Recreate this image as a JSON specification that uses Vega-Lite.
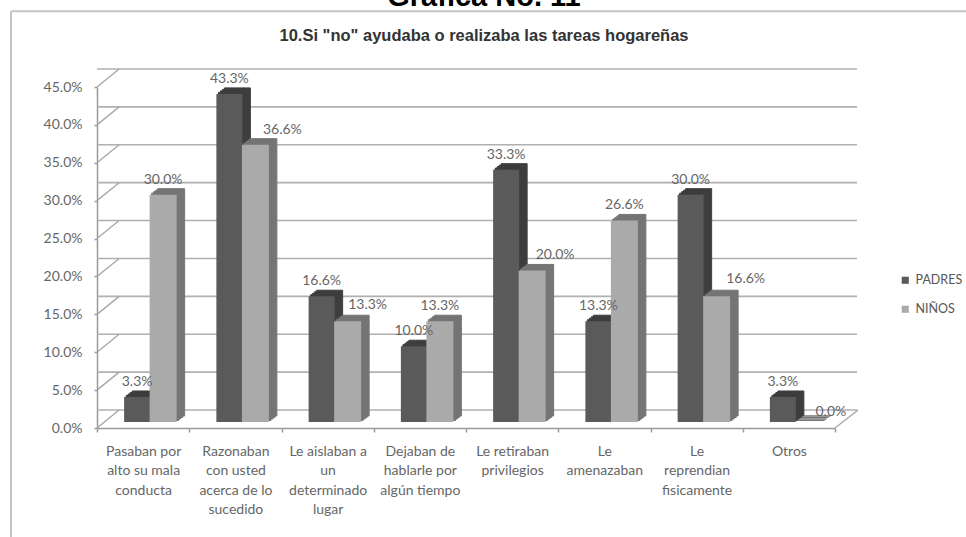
{"$schema":"https://vega.github.io/schema/vega-lite/v6.json","width":738,"height":341,"autosize":"none","padding":{"left":97,"top":87,"right":131,"bottom":109},"background":"white",
"config":{"view":{"stroke":null},"axisY":{"grid":false,"domainColor":"#9a9a9a","domainWidth":1.5,"tickColor":"#9a9a9a","tickSize":3,"tickWidth":1.5,"labelFont":"Lato","labelFontSize":14,"labelColor":"#666666","labelPadding":12}},
"title":{"text":"Gráfica No. 11","subtitle":"10.Si \"no\" ayudaba o realizaba las tareas hogareñas","font":"Liberation Sans","fontSize":29,"fontWeight":"bold","color":"#000000","subtitleFont":"Liberation Sans","subtitleFontSize":16.5,"subtitleFontWeight":"bold","subtitleColor":"#333333","subtitlePadding":16,"anchor":"middle","dx":18,"offset":-34},
"datasets":{"barras":[
{"categoria":"Pasaban por alto su mala conducta","serie":"PADRES","valor":3.3},{"categoria":"Pasaban por alto su mala conducta","serie":"NIÑOS","valor":30.0},
{"categoria":"Razonaban con usted acerca de lo sucedido","serie":"PADRES","valor":43.3},{"categoria":"Razonaban con usted acerca de lo sucedido","serie":"NIÑOS","valor":36.6},
{"categoria":"Le aislaban a un determinado lugar","serie":"PADRES","valor":16.6},{"categoria":"Le aislaban a un determinado lugar","serie":"NIÑOS","valor":13.3},
{"categoria":"Dejaban de hablarle por algún tiempo","serie":"PADRES","valor":10.0},{"categoria":"Dejaban de hablarle por algún tiempo","serie":"NIÑOS","valor":13.3},
{"categoria":"Le retiraban privilegios","serie":"PADRES","valor":33.3},{"categoria":"Le retiraban privilegios","serie":"NIÑOS","valor":20.0},
{"categoria":"Le amenazaban","serie":"PADRES","valor":13.3},{"categoria":"Le amenazaban","serie":"NIÑOS","valor":26.6},
{"categoria":"Le reprendian fisicamente","serie":"PADRES","valor":30.0},{"categoria":"Le reprendian fisicamente","serie":"NIÑOS","valor":16.6},
{"categoria":"Otros","serie":"PADRES","valor":3.3},{"categoria":"Otros","serie":"NIÑOS","valor":0.0}],
"niveles":[{"nivel":0},{"nivel":5},{"nivel":10},{"nivel":15},{"nivel":20},{"nivel":25},{"nivel":30},{"nivel":35},{"nivel":40},{"nivel":45}]},
"resolve":{"scale":{"x":"independent"},"axis":{"y":"independent"}},
"layer":[
{"data":{"values":[{"marco":"superior"}]},"mark":{"type":"rule","color":"#c4c4c4","strokeWidth":2},"encoding":{"x":{"datum":-0.932,"type":"quantitative","scale":{"domain":[0,8]},"axis":null},"x2":{"datum":9.42},"y":{"datum":55,"type":"quantitative","scale":{"domain":[0,45]},"axis":null}}},
{"data":{"values":[{"marco":"izquierdo"}]},"mark":{"type":"rule","color":"#c4c4c4","strokeWidth":2},"encoding":{"x":{"datum":-0.932,"type":"quantitative","scale":{"domain":[0,8]},"axis":null},"y":{"datum":55,"type":"quantitative","scale":{"domain":[0,45]},"axis":null},"y2":{"datum":-14.4}}},
{"data":{"name":"niveles"},"mark":{"type":"rule","color":"#b0b0b0","strokeWidth":1.6,"xOffset":22,"yOffset":-18},"encoding":{"y":{"field":"nivel","type":"quantitative","scale":{"domain":[0,45]},"axis":null}}},
{"data":{"name":"niveles"},"transform":[{"calculate":"datum.nivel+2.375","as":"fondo"}],"mark":{"type":"rule","color":"#a8a8a8","strokeWidth":1.4},"encoding":{"x":{"datum":0,"type":"quantitative","scale":{"domain":[0,8]},"axis":null},"x2":{"datum":0.24},"y":{"field":"nivel","type":"quantitative","scale":{"domain":[0,45]},"axis":null},"y2":{"field":"fondo"}}},
{"data":{"values":[{"marco":"derecho"}]},"mark":{"type":"rule","color":"#a8a8a8","strokeWidth":1.4},"encoding":{"x":{"datum":8,"type":"quantitative","scale":{"domain":[0,8]},"axis":null},"x2":{"datum":8.25},"y":{"datum":0,"type":"quantitative","scale":{"domain":[0,45]},"axis":null},"y2":{"datum":2.375}}},
{"data":{"name":"barras"},
"transform":[{"calculate":"format(datum.valor,'.1f')+'%'","as":"etiqueta"}],
"encoding":{
"x":{"field":"categoria","type":"nominal","sort":null,"scale":{"paddingInner":0,"paddingOuter":0},"axis":{"title":null,"labelAngle":0,"tickBand":"extent","domainColor":"#9a9a9a","domainWidth":1.5,"tickColor":"#9a9a9a","tickSize":4,"tickWidth":1.5,"labelFont":"Lato","labelFontSize":14,"labelColor":"#666666","labelPadding":12,"labelLineHeight":19.6,"labelBaseline":"top","labelLimit":0,
"labelExpr":"{'Pasaban por alto su mala conducta':['Pasaban por','alto su mala','conducta'],'Razonaban con usted acerca de lo sucedido':['Razonaban','con usted','acerca de lo','sucedido'],'Le aislaban a un determinado lugar':['Le aislaban a','un','determinado','lugar'],'Dejaban de hablarle por algún tiempo':['Dejaban de','hablarle por','algún tiempo'],'Le retiraban privilegios':['Le retiraban','privilegios'],'Le amenazaban':['Le','amenazaban'],'Le reprendian fisicamente':['Le','reprendian','fisicamente'],'Otros':['Otros']}[datum.value]"}},
"y":{"field":"valor","type":"quantitative","scale":{"domain":[0,45]},"axis":{"title":null,"values":[0,5,10,15,20,25,30,35,40,45],"labelExpr":"format(datum.value,'.1f')+'%'"}}
},
"layer":[
{"transform":[{"filter":"datum.serie==='PADRES'"}],"mark":{"type":"bar","width":26,"xOffset":2,"yOffset":-12,"stroke":"#3e3e3e","strokeWidth":1,"fill":"#3e3e3e"}},
{"transform":[{"filter":"datum.serie==='PADRES'"}],"mark":{"type":"bar","width":26,"xOffset":0,"yOffset":-10.5,"stroke":"#3e3e3e","strokeWidth":1,"fill":"#3e3e3e"}},
{"transform":[{"filter":"datum.serie==='PADRES'"}],"mark":{"type":"bar","width":26,"xOffset":-2,"yOffset":-9,"stroke":"#3e3e3e","strokeWidth":1,"fill":"#3e3e3e"}},
{"transform":[{"filter":"datum.serie==='PADRES'"}],"mark":{"type":"bar","width":26,"xOffset":-4,"yOffset":-7.5,"stroke":"#3e3e3e","strokeWidth":1,"fill":"#3e3e3e"}},
{"transform":[{"filter":"datum.serie==='PADRES'"}],"mark":{"type":"bar","width":26,"xOffset":-6,"yOffset":-6},"encoding":{"color":{"field":"serie","type":"nominal","sort":["PADRES","NIÑOS"],"scale":{"domain":["PADRES","NIÑOS"],"range":["#5a5a5a","#aaaaaa"]},"legend":{"title":null,"orient":"none","legendX":802,"legendY":187,"symbolType":"square","symbolSize":50,"labelFont":"Lato","labelFontSize":12.5,"labelColor":"#555555","rowPadding":16,"labelOffset":4}}}},
{"transform":[{"filter":"datum.serie==='NIÑOS'"}],"mark":{"type":"bar","width":27,"xOffset":28,"yOffset":-12,"stroke":"#757575","strokeWidth":1,"fill":"#757575"}},
{"transform":[{"filter":"datum.serie==='NIÑOS'"}],"mark":{"type":"bar","width":27,"xOffset":26,"yOffset":-10.5,"stroke":"#757575","strokeWidth":1,"fill":"#757575"}},
{"transform":[{"filter":"datum.serie==='NIÑOS'"}],"mark":{"type":"bar","width":27,"xOffset":24,"yOffset":-9,"stroke":"#757575","strokeWidth":1,"fill":"#757575"}},
{"transform":[{"filter":"datum.serie==='NIÑOS'"}],"mark":{"type":"bar","width":27,"xOffset":22,"yOffset":-7.5,"stroke":"#757575","strokeWidth":1,"fill":"#757575"}},
{"transform":[{"filter":"datum.serie==='NIÑOS'"}],"mark":{"type":"bar","width":27,"xOffset":20,"yOffset":-6},"encoding":{"color":{"field":"serie","type":"nominal","scale":{"domain":["PADRES","NIÑOS"],"range":["#5a5a5a","#aaaaaa"]}}}},
{"transform":[{"filter":"datum.serie==='PADRES'"}],"mark":{"type":"text","xOffset":-6,"yOffset":-21,"font":"Lato","fontSize":14,"color":"#666666"},"encoding":{"text":{"field":"etiqueta","type":"nominal"}}},
{"transform":[{"filter":"datum.serie==='NIÑOS' && (datum.categoria==='Pasaban por alto su mala conducta' || datum.categoria==='Dejaban de hablarle por algún tiempo' || datum.categoria==='Le amenazaban')"}],"mark":{"type":"text","xOffset":20,"yOffset":-21,"font":"Lato","fontSize":14,"color":"#666666"},"encoding":{"text":{"field":"etiqueta","type":"nominal"}}},
{"transform":[{"filter":"datum.serie==='NIÑOS' && datum.categoria==='Razonaban con usted acerca de lo sucedido'"}],"mark":{"type":"text","xOffset":47,"yOffset":-21,"font":"Lato","fontSize":14,"color":"#666666"},"encoding":{"text":{"field":"etiqueta","type":"nominal"}}},
{"transform":[{"filter":"datum.serie==='NIÑOS' && datum.categoria==='Le aislaban a un determinado lugar'"}],"mark":{"type":"text","xOffset":40,"yOffset":-22,"font":"Lato","fontSize":14,"color":"#666666"},"encoding":{"text":{"field":"etiqueta","type":"nominal"}}},
{"transform":[{"filter":"datum.serie==='NIÑOS' && datum.categoria==='Le retiraban privilegios'"}],"mark":{"type":"text","xOffset":43,"yOffset":-21,"font":"Lato","fontSize":14,"color":"#666666"},"encoding":{"text":{"field":"etiqueta","type":"nominal"}}},
{"transform":[{"filter":"datum.serie==='NIÑOS' && datum.categoria==='Le reprendian fisicamente'"}],"mark":{"type":"text","xOffset":49,"yOffset":-23,"font":"Lato","fontSize":14,"color":"#666666"},"encoding":{"text":{"field":"etiqueta","type":"nominal"}}},
{"transform":[{"filter":"datum.serie==='NIÑOS' && datum.categoria==='Otros'"}],"mark":{"type":"text","xOffset":42,"yOffset":-16,"font":"Lato","fontSize":14,"color":"#666666"},"encoding":{"text":{"field":"etiqueta","type":"nominal"}}}
]}
]}
